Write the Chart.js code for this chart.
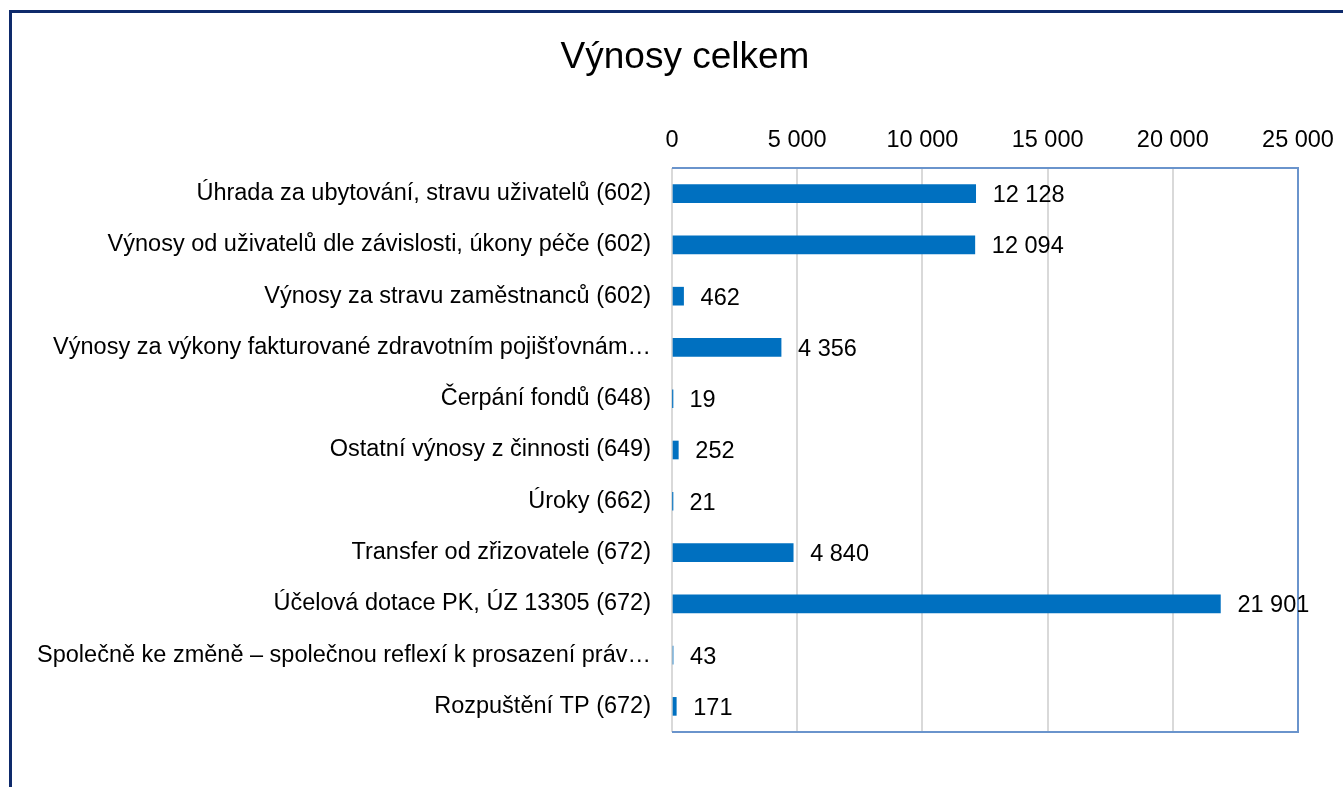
<!DOCTYPE html>
<html>
<head>
<meta charset="utf-8">
<script src="https://cdn.jsdelivr.net/npm/chart.js@4"></script>
<style>
  html, body { margin: 0; padding: 0; background: #fff; }
  #wrap { position: relative; width: 1343px; height: 787px; overflow: hidden; }
  #frame { position: absolute; left: 9px; top: 10px; width: 2000px; height: 2000px;
           border-left: 3px solid #0e2a6b; border-top: 3px solid #0e2a6b; }
  canvas { position: absolute; left: 0; top: 0; }
</style>
</head>
<body>
<div id="wrap">
  <div id="frame"></div>
  <canvas id="myChart" width="1343" height="787"></canvas>
</div>
<script>
const chartTitle = 'Výnosy celkem';
const categories = [
  'Úhrada za ubytování, stravu uživatelů (602)',
  'Výnosy od uživatelů dle závislosti, úkony péče (602)',
  'Výnosy za stravu zaměstnanců (602)',
  'Výnosy za výkony fakturované zdravotním pojišťovnám…',
  'Čerpání fondů (648)',
  'Ostatní výnosy z činnosti (649)',
  'Úroky (662)',
  'Transfer od zřizovatele (672)',
  'Účelová dotace PK, ÚZ 13305 (672)',
  'Společně ke změně – společnou reflexí k prosazení práv…',
  'Rozpuštění TP (672)'
];
const values = [12128, 12094, 462, 4356, 19, 252, 21, 4840, 21901, 43, 171];
const xMax = 25000;
const xStep = 5000;

const FONT = 'Arial, "Liberation Sans", sans-serif';
const TXT = 23.5;
const fmt = v => String(v).replace(/\B(?=(\d{3})+(?!\d))/g, ' ');

// title + plot frame + value labels
const extras = {
  id: 'extras',
  beforeDraw(chart) {
    const { ctx } = chart;
    ctx.save();
    ctx.fillStyle = '#000';
    ctx.font = '37px ' + FONT;
    ctx.textAlign = 'center';
    ctx.textBaseline = 'alphabetic';
    ctx.fillText(chartTitle, 685, 68);
    ctx.restore();
  },
  afterDatasetsDraw(chart) {
    const { ctx, chartArea: a } = chart;
    ctx.save();
    ctx.strokeStyle = '#6a94cc';
    ctx.lineWidth = 2;
    ctx.beginPath();
    ctx.moveTo(a.left, a.top); ctx.lineTo(a.right, a.top);
    ctx.lineTo(a.right, a.bottom); ctx.lineTo(a.left, a.bottom);
    ctx.stroke();

    ctx.fillStyle = '#000';
    ctx.font = TXT + 'px ' + FONT;
    ctx.textAlign = 'left';
    ctx.textBaseline = 'middle';
    const meta = chart.getDatasetMeta(0);
    meta.data.forEach((bar, i) => {
      ctx.fillText(fmt(values[i]), bar.x + 17, bar.y + 2);
    });
    ctx.restore();
  }
};

new Chart(document.getElementById('myChart'), {
  type: 'bar',
  data: {
    labels: categories,
    datasets: [{
      data: values,
      backgroundColor: '#0070c0',
      barThickness: 18
    }]
  },
  options: {
    indexAxis: 'y',
    responsive: false,
    animation: false,
    layout: { padding: { top: 120, right: 45, bottom: 55, left: 0 } },
    plugins: {
      legend: { display: false },
      title: { display: false },
      tooltip: { enabled: false }
    },
    scales: {
      x: {
        position: 'top',
        min: 0,
        max: xMax,
        afterFit(scale) {
          scale.height = 48;
          scale.paddingLeft = 0;
          scale.paddingRight = 0;
        },
        grid: { color: '#d9d9d9', lineWidth: 2, drawTicks: false },
        border: { display: false },
        ticks: {
          stepSize: xStep,
          padding: 13,
          color: '#000',
          font: { family: FONT, size: TXT },
          callback: v => fmt(v)
        }
      },
      y: {
        afterFit(scale) { scale.width = 672; },
        grid: { display: false, drawTicks: false },
        border: { display: false },
        ticks: {
          padding: 21,
          color: '#000',
          autoSkip: false,
          font: { family: FONT, size: TXT }
        }
      }
    }
  },
  plugins: [extras]
});
</script>
</body>
</html>
